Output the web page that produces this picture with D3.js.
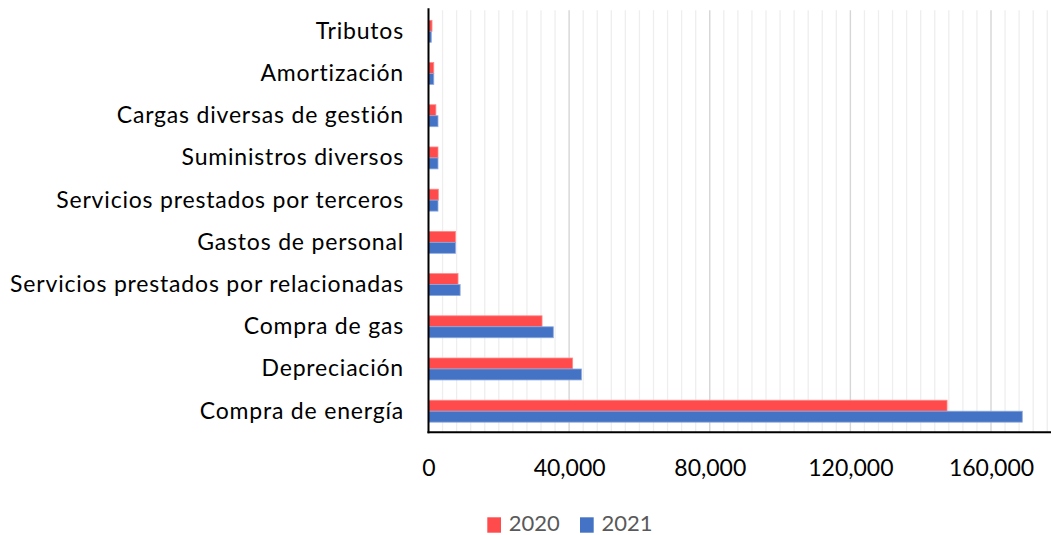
<!DOCTYPE html>
<html>
<head>
<meta charset="utf-8">
<script src="https://cdn.jsdelivr.net/npm/d3@7"></script>
<style>
  html, body { margin: 0; padding: 0; background: #fff; }
  svg { display: block; }
  text { font-family: Lato, "Open Sans", sans-serif; }
</style>
</head>
<body>
<svg id="chart" width="1051" height="535"></svg>
<script>
const categories = [
  "Tributos",
  "Amortización",
  "Cargas diversas de gestión",
  "Suministros diversos",
  "Servicios prestados por terceros",
  "Gastos de personal",
  "Servicios prestados por relacionadas",
  "Compra de gas",
  "Depreciación",
  "Compra de energía"
];
const values2020 = [1000, 1500, 2100, 2700, 2800, 7700, 8400, 32300, 41000, 147500];
const values2021 = [800, 1500, 2700, 2700, 2700, 7700, 9000, 35500, 43500, 168900];
const seriesNames = ["2020", "2021"];
const seriesColors = ["#FF4B4B", "#4472C4"];
const tickValues = [0, 40000, 80000, 120000, 160000];

const svg = d3.select("#chart");
const plot = { left: 428.5, right: 1049, top: 10.2, bottom: 432.3 };

const x = d3.scaleLinear().domain([0, 160000]).range([plot.left, 991]);
const xMax = x.invert(plot.right);

const y = d3.scaleBand().domain(categories).range([plot.top, plot.bottom])
  .paddingInner(0.48).paddingOuter(0.24);
const ySub = d3.scaleBand().domain(seriesNames).range([0, y.bandwidth()]);

// minor gridlines
const minor = d3.range(4000, xMax + 1, 4000).filter(v => v % 40000 !== 0);
svg.append("g").selectAll("line").data(minor).join("line")
  .attr("x1", d => x(d)).attr("x2", d => x(d))
  .attr("y1", plot.top).attr("y2", plot.bottom)
  .attr("stroke", "#eeeeee").attr("stroke-width", 1.3);

// major gridlines
svg.append("g").selectAll("line").data(tickValues.filter(v => v > 0)).join("line")
  .attr("x1", d => x(d)).attr("x2", d => x(d))
  .attr("y1", plot.top).attr("y2", plot.bottom)
  .attr("stroke", "#d6d6d6").attr("stroke-width", 1.4);

// bars
const rows = categories.map((c, i) => ({ c, vals: [values2020[i], values2021[i]] }));
const groups = svg.append("g").selectAll("g").data(rows).join("g")
  .attr("transform", d => `translate(0,${y(d.c)})`);
groups.selectAll("rect").data(d => d.vals.map((v, k) => ({ v, k }))).join("rect")
  .attr("x", x(0))
  .attr("y", d => ySub(seriesNames[d.k]))
  .attr("width", d => x(d.v) - x(0))
  .attr("height", ySub.bandwidth())
  .attr("fill", d => seriesColors[d.k])
  .attr("stroke", d => d.k === 0 ? "#ff8a8a" : "#8faadc")
  .attr("stroke-width", 0.8);

// axes lines
svg.append("line").attr("x1", plot.left).attr("x2", plot.left)
  .attr("y1", plot.top - 2).attr("y2", plot.bottom + 1)
  .attr("stroke", "#000").attr("stroke-width", 2);
svg.append("line").attr("x1", plot.left - 1).attr("x2", plot.right + 2)
  .attr("y1", plot.bottom).attr("y2", plot.bottom)
  .attr("stroke", "#000").attr("stroke-width", 2);

// x tick labels
const xAxis = d3.axisBottom(x).tickValues(tickValues).tickFormat(d3.format(",")).tickSize(0).tickPadding(0);
const gx = svg.append("g").attr("transform", `translate(0,${plot.bottom})`).call(xAxis);
gx.select(".domain").remove();
gx.selectAll("text").attr("font-size", 23).attr("fill", "#000")
  .attr("font-family", "Lato, sans-serif")
  .attr("dy", null).attr("y", 44);

// category labels
const yAxis = d3.axisLeft(y).tickSize(0).tickPadding(0);
const gy = svg.append("g").attr("transform", `translate(404,0)`).call(yAxis);
gy.select(".domain").remove();
gy.selectAll("text").attr("font-size", 23).attr("fill", "#000")
  .attr("font-family", "Lato, sans-serif").attr("x", 0);
// fit longest label width to reference width via small letter spacing
let maxW = 0, maxN = 1;
gy.selectAll("text").each(function () {
  const w = this.getComputedTextLength();
  if (w > maxW) { maxW = w; maxN = this.textContent.length; }
});
const ls = Math.max(0, (394 - maxW) / maxN);
gy.selectAll("text").attr("letter-spacing", ls.toFixed(2));

// legend
const legend = svg.append("g");
const legX = [487.3, 580];
seriesNames.forEach((s, i) => {
  legend.append("rect").attr("x", legX[i]).attr("y", 517.3).attr("width", 13.7).attr("height", 15.4)
    .attr("fill", seriesColors[i]);
  legend.append("text").attr("x", legX[i] + 21.4).attr("y", 531)
    .attr("font-size", 22).attr("fill", "#595959").text(s);
});
</script>
</body>
</html>
